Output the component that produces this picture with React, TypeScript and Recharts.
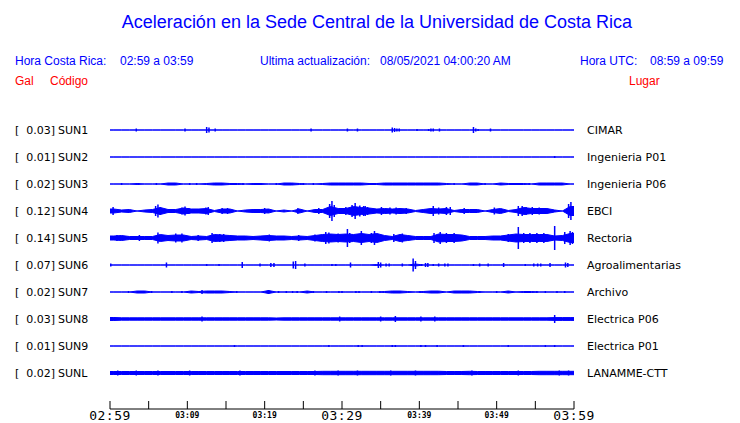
import React from 'react';
import { ComposedChart, Area, Scatter, ErrorBar, XAxis, YAxis } from 'recharts';

// station metadata
const stationCodes = ['SUN1', 'SUN2', 'SUN3', 'SUN4', 'SUN5', 'SUN6', 'SUN7', 'SUN8', 'SUN9', 'SUNL'];
const stationPeaks = ['0.03', '0.01', '0.02', '0.12', '0.14', '0.07', '0.02', '0.03', '0.01', '0.02'];
const stationPlaces = ['CIMAR', 'Ingenieria P01', 'Ingenieria P06', 'EBCI', 'Rectoria', 'Agroalimentarias', 'Archivo', 'Electrica P06', 'Electrica P01', 'LANAMME-CTT'];

// envelope (half amplitude, relative units) per minute, 02:59 -> 03:59
const SUN1_ENV = [0,0,0,0,0,0,0,0,0,0, 0,0,0,0,0,0,0,0,0,0, 0,0,0,0,0,0,0,0,0,0, 0,0,0,0,0,0,0,0,0,0, 0,0,0,0,0,0,0,0,0,0, 0,0,0,0,0,0,0,0,0,0];
const SUN2_ENV = [0,0,0,0,0,0,0,0,0,0, 0,0,0,0,0,0,0,0,0,0, 0,0,0,0,0,0,0,0,0,0, 0,0,0,0,0,0,0,0,0,0, 0,0,0,0,0,0,0,0,0,0, 0,0,0,0,0,0,0,0,0,0];
const SUN3_ENV = [0,0,0,0.5,0,0,0,1,1,0, 0,0,0.5,1,1,0.5,0.5,0,0.5,0.5, 0,0,1,1,0.5,0,0,0.5,1,1, 1,1,1,0.5,0.5,1,1,1,1,1, 1,1,1,0.5,0,0,1,1,0,0, 1,0.5,0.5,0.5,0,1,1,1,1,0];
const SUN4_ENV = [2,1,1.5,0,1,1.5,3.5,1.5,1.5,3,2,2,2.5,0.5,2,2,0,1,1.5,1.5, 2,0,1,0,2,0,1.5,1.5,4.5,2.5, 2.5,4.5,3.5,3,2,2.5,2,2.5,2,0.5, 1.5,2.5,2,2.5,0.5,1.5,1.5,1.5,0,1.5, 2.5,0.5,1.5,3.5,2.5,2.5,2.5,1,0,4.5];
const SUN5_ENV = [2,2.5,1.5,1.5,1.5,1.5,3.5,2.5,3,3, 1.5,2,1.5,3.5,3,2.5,2,2,1.5,2, 2.5,2,2,1.5,2,1.5,2.5,3.5,4,3.5, 4,3.5,4.5,3.5,4.5,2.5,1.5,3.5,2.5,1.5, 1.5,1.5,4,3.5,3.5,3,1.5,1.5,1.5,2, 2,3,4,3.5,3.5,3.5,3.5,2,2.5,4.5];
const SUN6_ENV = [0,0,0,0,0,0,0,0,0,0, 0,0,0,0,0,0,0,0,0,0, 0,0,0,0,0,0,0,0,0,0, 0,0,0,0,0.5,0,0,0,0,1, 0,0,0,0,0,0,0,0,0,0, 0,0,0,0,0,0,0,0,0,0];
const SUN7_ENV = [0,0,0,1,1,0,0,0,0,0, 1,0.5,1,1,1,0.5,0,0,0,0, 1.5,0,0,0,0,1,0,0,0,0, 0,0,0,0,0,0.5,1,1,0.5,0, 0.5,1,1,0,1,1,1,0.5,0,0, 0,1,0,0.5,0.5,0,0,0,0,0];
const SUN8_ENV = [1.5,1.2,1.2,1.2,1.2,1.2,1.2,1.2,1.2,1.2, 1.2,1.2,1.2,1.2,1.2,1.2,1.2,1.2,1.2,1.2, 1.2,1,1.2,1.2,1.2,1.2,1.2,1.2,1.2,1.2, 1.2,1.2,1.2,1.2,1.2,1.2,1.2,1.2,1.2,1.2, 1.2,1.2,1.2,1.2,1.2,1.2,1.2,1.2,1.2,1.2, 1.2,1.2,1.2,1.2,1.2,1.2,1.2,1.4,1.4,1.4];
const SUN9_ENV = [0,0,0,0,0,0,0,0,0,0, 0,0,0,0,0,0,0,0,0,0, 0,0,0,0,0,0,0,0,0,0, 0,0,0,0,0,0,0,0,0,0, 0,0,0,0,0,0,0,0,0,0, 0,0,0,0,0,0,0,0,0,0];
const SUNL_ENV = [1.5,1.5,1.5,1.5,1.5,1.5,1.5,1.5,1.5,1.5, 1.5,1.5,1.5,1.5,1.5,1.5,1.5,1.5,1.5,1.5, 1.5,1.5,1.5,1.5,1.5,1.5,1.5,1.7,1.7,1.7, 1.7,1.7,1.7,1.7,1.7,1.7,1.7,1.7,1.7,1.7, 1.7,1.7,1.7,1.5,1.5,1.5,1.7,1.5,1.5,1.5, 1.5,1.5,1.5,1.5,1.5,1.7,1.7,1.7,1.7,1.7];

// short peaks: [minute, half amplitude]
const SUN1_SPIKES = [[3.4,1.5],[9.7,1.5],[12.5,3],[12.8,2.5],[13.6,1.5],[26,1.5],[30.7,1.5],[32,1.5],[36.5,2.5],[36.8,2],[37.1,1.5],[37.4,1.5],[39.7,1],[41.2,1],[41.5,1.5],[41.8,1.5],[42.6,1.5],[47,3],[47.3,1.5],[47.6,1],[49.2,1.5]];
const SUN2_SPIKES = [[57.5,1]];
const SUN3_SPIKES = [[1.5,1],[3.7,1],[6,1],[10.3,1],[11.2,1],[17.2,1],[19.5,1],[21.5,1],[25,1],[26.3,1],[44.5,1],[48.5,1],[54.2,1]];
const SUN4_SPIKES = [[0.4,4],[5.9,5],[6.2,6.5],[6.5,4],[9.3,3.5],[9.7,4.5],[10.2,3],[12.4,3.5],[12.7,4],[14.5,3],[15.2,3],[20,3],[24.3,3],[27,3],[28.4,7],[28.7,10],[29,6],[30.5,4],[31.3,6],[31.7,8],[32.3,5.5],[32.8,5],[33,5],[33.3,4],[35.1,4],[36.2,3.5],[37,3.5],[38.3,3],[41.8,5],[42.5,3.5],[43.5,4],[44,4],[45.8,3],[49.7,3.5],[52.8,5],[53.3,5],[53.8,4],[54.6,4],[55.5,3.5],[56.3,3],[59.3,7],[59.6,9]];
const SUN5_SPIKES = [[0.9,3],[3.8,3],[6.2,5.5],[8.5,4.5],[9.3,4.5],[11.4,3],[13.2,5],[14.2,4],[14.7,4],[20.6,3.5],[24.4,3],[26.5,3.5],[27.9,6],[28.3,5.5],[29.5,4.5],[30.7,9],[31,5],[32.5,7],[33.8,5],[34.2,7],[36.7,4],[37.8,4.5],[41.9,5],[42.7,6],[43.5,5],[44.5,5],[51.5,4],[52.8,11],[53.5,5],[54.3,5],[55.2,5],[56.1,5],[57.5,12],[58.8,6],[59.5,7],[59.8,6]];
const SUN6_SPIKES = [[0.1,1.5],[7.3,2.5],[12.5,1],[14.1,1],[17.1,3],[19.4,1.5],[20.8,2],[21.2,2],[23.7,3.5],[24,4],[25.2,1.5],[28.7,1],[29.2,1],[31.1,2.5],[34.7,3],[35,2.5],[35.7,1.5],[36.1,1.5],[37.8,1.5],[39.2,6.5],[39.5,4],[40.3,1],[40.8,2],[41.1,2],[41.8,1],[42.5,1.5],[43.3,1.5],[43.7,1.5],[47,1],[47.8,1.5],[48.9,1.5],[50.9,2],[53.7,1],[54.8,1.5],[55.3,1.5],[55.7,1.5],[56.9,2],[58.9,2.5],[59.2,2]];
const SUN7_SPIKES = [[2.4,1],[5.4,1],[8,1],[9.3,1],[11.9,2],[16.4,1],[20.5,2],[21.8,1],[22.8,1],[23.6,1],[24.2,1],[26.3,1],[28,1],[29.6,1],[30,1],[31.8,1],[32.2,1],[33.8,1],[34.9,1],[40.1,1],[47.8,1],[50,1],[55.2,1],[56.3,1],[57.8,1],[58.8,1]];
const SUN8_SPIKES = [[11.9,2.5],[29.7,2.5],[35,2.5],[36.9,3],[40.2,2.5],[42,2.5],[57.5,4]];
const SUN9_SPIKES = [[16.1,1],[28.3,1],[32.1,1],[32.6,1],[36.5,1],[36.9,1],[40.2,1],[40.8,1],[42.3,1],[45.7,1],[51.5,1],[56.3,1],[57.5,1]];
const SUNL_SPIKES = [[1,2.5],[3.4,2.5],[6.2,2.5],[10.3,2.5],[16.8,2.5],[26.5,2.5],[29.5,2.5],[32,2.5],[36.3,2.5],[39.5,2.5],[46.8,2.5],[52.8,2.5],[58.1,2.5],[59.3,2.5]];

const envelopes = [SUN1_ENV, SUN2_ENV, SUN3_ENV, SUN4_ENV, SUN5_ENV, SUN6_ENV, SUN7_ENV, SUN8_ENV, SUN9_ENV, SUNL_ENV];
const spikes = [SUN1_SPIKES, SUN2_SPIKES, SUN3_SPIKES, SUN4_SPIKES, SUN5_SPIKES, SUN6_SPIKES, SUN7_SPIKES, SUN8_SPIKES, SUN9_SPIKES, SUNL_SPIKES];

// time axis
const minuteTicks = [0, 5, 10, 15, 20, 25, 30, 35, 40, 45, 50, 55, 60];
const tickLabels = ['02:59', '', '03:09', '', '03:19', '', '03:29', '', '03:39', '', '03:49', '', '03:59'];
const majorTicks = [0, 30, 60];

const BLUE = '#0000ff';
const AMP_UNIT = 1 / 27;
const baseOf = (i: number) => stationCodes.length - i;

// sample points: trace ends plus the middle of each minute
const samples = [0, ...SUN1_ENV.map((_, k) => k + 0.5), 60];
const rows = samples.map((m) => {
  const k = Math.min(59, Math.floor(m));
  const row: any = { m };
  envelopes.forEach((env, i) => {
    const a = env[k] * AMP_UNIT;
    row['s' + i] = [baseOf(i) - a, baseOf(i) + a];
  });
  return row;
});

const spikeRows = spikes.flatMap((list, i) =>
  list.map(([m, a]) => ({ m, y: baseOf(i), e: a * AMP_UNIT }))
);

const stationTicks = stationCodes.map((_, i) => baseOf(i));

const TimeTick = (props: any) => {
  const { x, y, payload, index } = props;
  const label = tickLabels[index];
  const big = majorTicks.includes(payload.value);
  return (
    <g>
      <line x1={x} x2={x} y1={y - 8} y2={y} stroke="#000" />
      {label && (
        <text
          x={x}
          y={big ? y + 11 : y + 9}
          textAnchor="middle"
          fontFamily="DejaVu Sans Mono"
          fontSize={big ? 13 : 8}
          fontWeight={big ? 'normal' : 'bold'}
          letterSpacing={big ? 0.5 : 0}
          fill="#000"
        >
          {label}
        </text>
      )}
    </g>
  );
};

const LeftTick = (props: any) => {
  const { x, y, payload } = props;
  const i = stationCodes.length - payload.value;
  return (
    <g fontFamily="DejaVu Sans" fontSize={11} fill="#000">
      <text x={x - 95} y={y + 4}>[</text>
      <text x={x - 55} y={y + 4} textAnchor="end">{stationPeaks[i] + ']'}</text>
      <text x={x - 52} y={y + 4}>{stationCodes[i]}</text>
    </g>
  );
};

const RightTick = (props: any) => {
  const { x, y, payload } = props;
  const i = stationCodes.length - payload.value;
  return (
    <text x={x + 13} y={y + 4} fontFamily="DejaVu Sans" fontSize={11} fill="#000">
      {stationPlaces[i]}
    </text>
  );
};

export default function App() {
  return (
    <div style={{ position: 'absolute', left: 0, top: 0, width: 740, height: 423, background: '#fff' }}>
      <svg width={740} height={100} style={{ position: 'absolute', left: 0, top: 0 }}>
        <g fontFamily="Liberation Sans, Arial, sans-serif">
          <text x={377} y={28} textAnchor="middle" fontSize={18} fill={BLUE}>
            Aceleración en la Sede Central de la Universidad de Costa Rica
          </text>
          <g fontSize={12} fill={BLUE}>
            <text x={15} y={65}>Hora Costa Rica:</text>
            <text x={120} y={65}>02:59 a 03:59</text>
            <text x={260} y={65}>Ultima actualización:</text>
            <text x={380} y={65}>08/05/2021 04:00:20 AM</text>
            <text x={580} y={65}>Hora UTC:</text>
            <text x={650} y={65}>08:59 a 09:59</text>
          </g>
          <g fontSize={12} fill="#ff0000">
            <text x={15} y={85}>Gal</text>
            <text x={50} y={85}>Código</text>
            <text x={629} y={85}>Lugar</text>
          </g>
        </g>
      </svg>
      <div style={{ position: 'absolute', left: 0, top: 0 }}>
        <ComposedChart width={740} height={423} data={rows} margin={{ top: 116.5, right: 0, bottom: 0, left: 0 }}>
          <XAxis
            dataKey="m"
            type="number"
            domain={[0, 60]}
            ticks={minuteTicks}
            interval={0}
            height={14}
            tickSize={0}
            tickMargin={0}
            tickLine={false}
            axisLine={{ stroke: '#000' }}
            tick={<TimeTick />}
            allowDataOverflow
          />
          <YAxis
            yAxisId="left"
            type="number"
            domain={[-1 / 3, 10.5]}
            ticks={stationTicks}
            interval={0}
            width={110}
            tickSize={0}
            tickMargin={0}
            tickLine={false}
            axisLine={false}
            tick={<LeftTick />}
            allowDataOverflow
          />
          <YAxis
            yAxisId="right"
            orientation="right"
            type="number"
            domain={[-1 / 3, 10.5]}
            ticks={stationTicks}
            interval={0}
            width={166}
            tickSize={0}
            tickMargin={0}
            tickLine={false}
            axisLine={false}
            tick={<RightTick />}
            allowDataOverflow
          />
          {stationCodes.map((code, i) => (
            <Area
              key={code}
              yAxisId="left"
              dataKey={'s' + i}
              type="linear"
              stroke={BLUE}
              strokeWidth={1}
              fill={BLUE}
              fillOpacity={1}
              dot={false}
              activeDot={false}
              isAnimationActive={false}
            />
          ))}
          <Scatter
            yAxisId="left"
            data={spikeRows}
            dataKey="y"
            shape={() => <g />}
            isAnimationActive={false}
          >
            <ErrorBar dataKey="e" direction="y" width={0} stroke={BLUE} strokeWidth={1.5} isAnimationActive={false} />
          </Scatter>
        </ComposedChart>
      </div>
    </div>
  );
}
